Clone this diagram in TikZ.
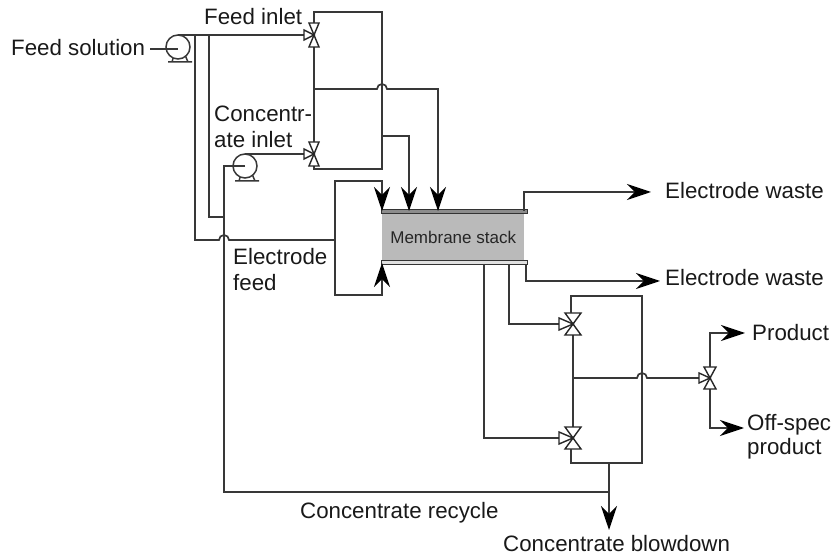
\documentclass[tikz,border=0pt]{standalone}
\usepackage{fontspec}
\setmainfont{Liberation Sans}
\usetikzlibrary{arrows.meta,calc}
\tikzset{
 line/.style={draw=black!78,line width=1.7pt,line join=miter},
 flow/.style={line,-{Stealth[length=24pt,width=16pt,inset=8pt,color=black]}},
 lbl/.style={anchor=base west,inner sep=0pt,font=\fontsize{22.3}{22.3}\selectfont,text=black!90},
 valveshape/.style={draw=black!85,fill=white,line width=1.4pt,line join=miter},
 vv/.pic={\draw[valveshape] (-5pt,12pt)--(5pt,12pt)--(-5pt,-12pt)--(5pt,-12pt)--cycle;
          \draw[valveshape] (-10pt,5pt)--(-10pt,-5pt)--(0,0)--cycle;},
 vh/.pic={\draw[valveshape] (-8pt,11pt)--(8pt,11pt)--(-8pt,-11pt)--(8pt,-11pt)--cycle;
          \draw[valveshape] (-14pt,6pt)--(-14pt,-6pt)--(0,0)--cycle;},
 vs/.pic={\draw[valveshape] (-6pt,11pt)--(6pt,11pt)--(-6pt,-11pt)--(6pt,-11pt)--cycle;
          \draw[valveshape] (-11pt,5pt)--(-11pt,-5pt)--(0,0)--cycle;},
 pumpc/.pic={\draw[line,line width=1.5pt] (-10pt,-15pt)--(14pt,-15pt) (-6pt,-15pt)--(-4pt,-8pt) (10pt,-15pt)--(7pt,-8pt);\draw[line,fill=white,line width=1.5pt] (0,0) circle[radius=12pt];}
}
\begin{document}
\begin{tikzpicture}[x=1pt,y=-1pt]
\useasboundingbox (0,0) rectangle (831,556);
% points
\coordinate (fs) at (150,49);
\coordinate (p1) at (178,47);
\coordinate (p2) at (245,166);
\coordinate (v1) at (314,35);
\coordinate (v2) at (314,154);
\coordinate (v3) at (573,324);
\coordinate (v4) at (573,438);
\coordinate (v5) at (710,378);
\coordinate (tl) at (314,12);
\coordinate (tr) at (382,12);
\coordinate (bl) at (314,169);
\coordinate (br) at (382,169);
\coordinate (h1) at (382,89);
\coordinate (h2) at (224,240);
\coordinate (h3) at (642,378);
% stack
\node[fill=black!27,minimum width=142pt,minimum height=46pt,inner sep=0pt,font=\fontsize{17}{17}\selectfont,text=black!85,anchor=north west] (stack) at (382,214) {Membrane stack};
\node[draw=black!80,line width=1pt,fill=black!45,minimum width=146pt,minimum height=4pt,inner sep=0pt,anchor=south west] (topbar) at (381,214) {};
\node[draw=black!80,line width=1pt,fill=black!12,minimum width=146pt,minimum height=4pt,inner sep=0pt,anchor=north west] (botbar) at (381,260) {};
% upper manifold
\draw[line] (v1) -- (tl) -- (tr) -- (br) -- (bl) -- (v2);
\draw[line] (v1) -- (v2);
% connectors
\draw[line] (p1 |- v1) -- (v1);
\draw[line] (p2 |- v2) -- (v2);
\draw[line] (195,35) |- ([xshift=-5pt]h2) arc[start angle=180,end angle=0,radius=5pt] -- (335,240);
\draw[line] (209,35) |- (224,217);
\draw[line] (p2) -- (224,166) -- (224,492) -- (609,492);
\draw[flow] (v1 |- h1) -- ([xshift=-5pt]h1) arc[start angle=180,end angle=0,radius=5pt] -- (438,89) -- (438,211);
\draw[flow] (382,136) -- (409,136) -- (409,211);
\draw[flow] (335,240) -- (335,181) -- (382,181) -- (382,211);
\draw[flow] (335,240) -- (335,295) -- (382,295) -- (382,263);
\draw[flow] (524,211) -- (524,192) -- (651,192);
\draw[flow] (526,264) -- (526,281) -- (660,281);
% lower manifold
\draw[line] (v3) -- (571,312) -- (571,296) -- (642,296) -- (642,463) -- (571,463) -- (571,449);
\draw[line] (v3) -- (v4);
\draw[line] (509,264) |- (v3);
\draw[line] (484,264) |- (v4);
\draw[line] (573,378) -- ([xshift=-5pt]h3) arc[start angle=180,end angle=0,radius=5pt] -- (v5);
\draw[flow] (v5) |- (745,333);
\draw[flow] (v5) |- (744,428);
\draw[flow] (609,463) -- (609,530);
% symbols
\pic at (p1) {pumpc};
\pic at (p2) {pumpc};
\draw[line] (fs) -- (p1 |- fs);
\draw[line] (p2) -- (224,166);
\pic at (v1) {vv};
\pic at (v2) {vv};
\pic at (v3) {vh};
\pic at (v4) {vh};
\pic at (v5) {vs};
% labels
\node[lbl] (a) at (11,56) {Feed solution};
\node[lbl] (b) at (204,25) {Feed inlet};
\node[lbl] (c) at (214,122) {Concentr-};
\node[lbl] (d) at (214,148) {ate inlet};
\node[lbl] (e) at (233,265) {Electrode};
\node[lbl] (f) at (233,291) {feed};
\node[lbl] (g) at (665,199) {Electrode waste};
\node[lbl] (h) at (665,286) {Electrode waste};
\node[lbl] (i) at (752,341) {Product};
\node[lbl] (j) at (747,430) {Off-spec};
\node[lbl] (k) at (747,454) {product};
\node[lbl] (l) at (300,518) {Concentrate recycle};
\node[lbl] (m) at (503,551) {Concentrate blowdown};
\end{tikzpicture}
\end{document}
